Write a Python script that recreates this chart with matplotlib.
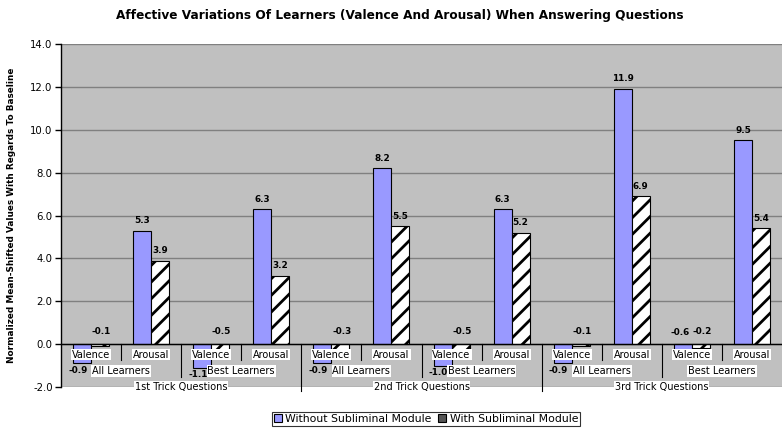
import matplotlib
matplotlib.use("Agg")
import matplotlib.pyplot as plt
from matplotlib.patches import Patch

plt.rcParams['font.family'] = ['DejaVu Sans']
plt.rcParams['hatch.linewidth'] = 2.0
plt.rcParams['hatch.color'] = '#4a4a4a'

title = "Affective Variations Of Learners (Valence And Arousal) When Answering Questions"
ylabel = "Normalized Mean-Shifted Values With Regards To Baseline"
level1 = ["Valence", "Arousal"] * 6
level2 = ["All Learners", "Best Learners"] * 3
level3 = ["1st Trick Questions", "2nd Trick Questions", "3rd Trick Questions"]
without_module = [-0.9, 5.3, -1.1, 6.3, -0.9, 8.2, -1.0, 6.3, -0.9, 11.9, -0.6, 9.5]
with_module = [-0.1, 3.9, -0.5, 3.2, -0.3, 5.5, -0.5, 5.2, -0.1, 6.9, -0.2, 5.4]
series_names = ["Without Subliminal Module", "With Subliminal Module"]

fig = plt.figure(figsize=(7.83, 4.33), dpi=100)
ax = fig.add_axes([61/783, 1-387/433, (782-61)/783, (387-44)/433])
ax.set_facecolor('#c0c0c0')

x = list(range(len(level1)))
w = 0.3
ax.bar([i - w/2 for i in x], without_module, w, color='#9999ff', edgecolor='black', linewidth=0.8, zorder=3)
ax.bar([i + w/2 for i in x], with_module, w, color='white', edgecolor='black', linewidth=0.8, hatch='//', zorder=3)

ax.set_ylim(-2, 14)
ax.set_xlim(-0.5, len(level1) - 0.5)
ax.set_yticks(range(-2, 15, 2))
ax.set_yticklabels([f"{v:.1f}" for v in range(-2, 15, 2)], fontsize=7.3)
ax.yaxis.grid(True, color='#808080', linewidth=1.0, zorder=0)
ax.set_axisbelow(True)
ax.set_xticks([])
for s in ['top', 'right', 'bottom']:
    ax.spines[s].set_visible(False)
ax.spines['left'].set_linewidth(1.0)
ax.tick_params(axis='y', length=4, width=1, pad=2)
ax.axhline(0, color='black', linewidth=1.0, zorder=4)

def lab(xpos, v, side):
    kw = dict(textcoords='offset points', ha='center', fontsize=6.4, fontweight='bold',
              zorder=9, annotation_clip=False)
    if v >= 0:
        ax.annotate(f"{v:.1f}", (xpos, v), xytext=(0, 4), va='bottom', **kw)
    elif v >= -0.7:
        dx = -2 if side == 0 else 1
        ax.annotate(f"{v:.1f}", (xpos, 0), xytext=(dx, 5 if side == 0 else 6), va='bottom', **kw)
    else:
        ax.annotate(f"{v:.1f}", (xpos, v), xytext=(-3, -2), va='top', **kw)

for i in x:
    lab(i - w/2, without_module[i], 0)
    lab(i + w/2, with_module[i], 1)

box = dict(facecolor='white', edgecolor='none', pad=0.6)
for i, t in enumerate(level1):
    ax.annotate(t, (i, 0), xytext=(0, -7.5), textcoords='offset points', ha='center', va='center',
                fontsize=7, bbox=box, zorder=7, annotation_clip=False)
for j, t in enumerate(level2):
    ax.annotate(t, (2*j + 0.5, 0), xytext=(0, -19.5), textcoords='offset points', ha='center', va='center',
                fontsize=7, bbox=box, zorder=7, annotation_clip=False)
for k, t in enumerate(level3):
    ax.annotate(t, (4*k + 1.5, 0), xytext=(0, -31), textcoords='offset points', ha='center', va='center',
                fontsize=7, bbox=box, zorder=7, annotation_clip=False)

px = 2.0/43.0
for i in range(1, len(level1)):
    xb = i - 0.5
    if i % 4 == 0:
        y1 = -47 * px
    elif i % 2 == 0:
        y1 = -33 * px
    else:
        y1 = -16 * px
    ax.plot([xb, xb], [0, y1], color='black', linewidth=0.8, clip_on=False, zorder=5)

fig.text(400/783, 1 - 16/433, title, ha='center', va='center', fontsize=8.75, fontweight='bold')
fig.text(12/783, 1 - 215/433, ylabel, ha='center', va='center', rotation=90, fontsize=6.4, fontweight='bold')

handles = [Patch(facecolor='#9999ff', edgecolor='black', linewidth=0.8),
           Patch(facecolor='#555555', edgecolor='black', linewidth=0.8)]
leg = fig.legend(handles, series_names, loc='center', bbox_to_anchor=(426/783, 1 - 419/433),
                 ncol=2, fontsize=7.8, frameon=True, fancybox=False, edgecolor='black',
                 handlelength=0.75, handleheight=0.75, handletextpad=0.3, columnspacing=0.6,
                 borderpad=0.2, borderaxespad=0)
leg.get_frame().set_linewidth(0.8)

fig.savefig('out.png', dpi=100)
